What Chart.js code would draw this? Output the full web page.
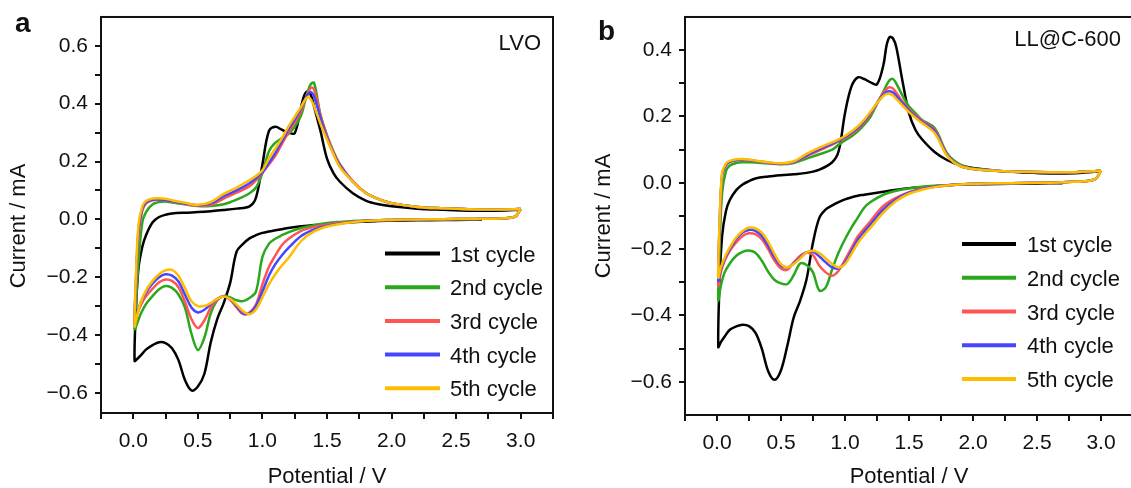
<!DOCTYPE html>
<html>
<head>
<meta charset="utf-8">
<script src="https://cdn.jsdelivr.net/npm/chart.js@4.4.0/dist/chart.umd.min.js"></script>
<style>
    html, body { margin: 0; padding: 0; background: #fff; overflow: hidden; width: 1131px; height: 488px; }
    canvas { position: absolute; top: 0; }
    #chart-a { left: 0; }
    #chart-b { left: 566px; }
</style>
</head>
<body>
<canvas id="chart-a" width="565" height="488"></canvas>
<canvas id="chart-b" width="580" height="488"></canvas>
<script>
// potential grids (V) for the two sweep directions
const cathodicV = [3.0, 2.95, 2.7, 2.5, 2.3, 2.1, 2.0, 1.9, 1.8, 1.7, 1.6, 1.5, 1.4, 1.3, 1.2, 1.15, 1.1, 1.05, 1.0, 0.95,
    0.9, 0.85, 0.8, 0.75, 0.7, 0.65, 0.6, 0.55, 0.5, 0.45, 0.4, 0.35, 0.3, 0.25, 0.2, 0.15, 0.1, 0.06, 0.03, 0.01];
const anodicV = [0.02, 0.04, 0.07, 0.1, 0.15, 0.2, 0.25, 0.3, 0.4, 0.5, 0.6, 0.7, 0.8, 0.9, 0.95, 1.0, 1.05, 1.1, 1.15, 1.2,
    1.25, 1.3, 1.325, 1.35, 1.375, 1.4, 1.45, 1.5, 1.55, 1.6, 1.7, 1.8, 1.9, 2.0, 2.2, 2.4, 2.6, 2.8, 2.95, 3.0];

const cycleLabels = ["1st cycle", "2nd cycle", "3rd cycle", "4th cycle", "5th cycle"];
const cycleColors = ["#000000", "#2aa81c", "#ff5454", "#4646ff", "#ffbd00"];

// current (mA) - panel a, LVO
const lvoCath1 = [null, null, -0.001, -0.002, -0.003, -0.004, -0.005, -0.006, -0.008, -0.01, -0.013, -0.016, -0.02, -0.024, -0.03, -0.034, -0.038, -0.042, -0.047, -0.055,
    -0.066, -0.085, -0.112, -0.22, -0.29, -0.345, -0.425, -0.535, -0.578, -0.592, -0.556, -0.487, -0.446, -0.428, -0.425, -0.435, -0.45, -0.47, -0.483, -0.49];
const lvoAnod1 = [-0.32, -0.17, -0.095, -0.053, -0.01, 0.008, 0.016, 0.02, 0.023, 0.025, 0.028, 0.032, 0.037, 0.045, 0.075, 0.19, 0.305, 0.32, 0.31, 0.3,
    0.298, 0.39, 0.43, 0.442, 0.43, 0.39, 0.305, 0.21, 0.16, 0.13, 0.09, 0.065, 0.052, 0.045, 0.037, 0.033, 0.03, 0.03, 0.032, 0.033];
const lvoCath2 = [0.035, 0.008, 0.002, 0.001, 0.0, -0.001, -0.002, -0.003, -0.004, -0.006, -0.009, -0.013, -0.02, -0.03, -0.045, -0.055, -0.067, -0.085, -0.13, -0.25,
    -0.272, -0.283, -0.28, -0.27, -0.265, -0.28, -0.325, -0.41, -0.452, -0.395, -0.305, -0.26, -0.237, -0.231, -0.242, -0.265, -0.292, -0.325, -0.36, -0.38];
const lvoAnod2 = [-0.3, -0.15, -0.01, 0.026, 0.052, 0.06, 0.062, 0.058, 0.052, 0.046, 0.046, 0.052, 0.068, 0.09, 0.11, 0.16, 0.235, 0.265, 0.28, 0.295,
    0.32, 0.36, 0.4, 0.44, 0.468, 0.472, 0.36, 0.29, 0.235, 0.19, 0.13, 0.092, 0.07, 0.056, 0.043, 0.038, 0.035, 0.034, 0.035, 0.036];
const lvoCath3 = [0.035, 0.008, 0.002, 0.001, 0.0, -0.001, -0.002, -0.003, -0.005, -0.008, -0.012, -0.018, -0.026, -0.04, -0.068, -0.09, -0.125, -0.165, -0.225, -0.295,
    -0.322, -0.328, -0.305, -0.278, -0.266, -0.278, -0.305, -0.35, -0.376, -0.345, -0.285, -0.235, -0.213, -0.208, -0.218, -0.24, -0.265, -0.295, -0.33, -0.365];
const lvoAnod3 = [-0.24, -0.06, 0.03, 0.055, 0.066, 0.068, 0.066, 0.062, 0.053, 0.047, 0.05, 0.072, 0.092, 0.115, 0.135, 0.16, 0.19, 0.22, 0.26, 0.3,
    0.335, 0.375, 0.405, 0.435, 0.455, 0.45, 0.36, 0.29, 0.232, 0.19, 0.132, 0.092, 0.07, 0.056, 0.043, 0.038, 0.035, 0.034, 0.035, 0.036];
const lvoCath4 = [0.035, 0.008, 0.002, 0.001, 0.0, -0.001, -0.002, -0.003, -0.005, -0.009, -0.014, -0.022, -0.035, -0.058, -0.1, -0.125, -0.155, -0.195, -0.25, -0.3,
    -0.325, -0.325, -0.3, -0.275, -0.267, -0.275, -0.293, -0.313, -0.322, -0.305, -0.26, -0.215, -0.195, -0.19, -0.2, -0.222, -0.252, -0.285, -0.325, -0.365];
const lvoAnod4 = [-0.22, -0.04, 0.038, 0.06, 0.068, 0.069, 0.067, 0.063, 0.055, 0.049, 0.055, 0.08, 0.1, 0.125, 0.142, 0.163, 0.195, 0.23, 0.27, 0.31,
    0.345, 0.385, 0.41, 0.432, 0.44, 0.425, 0.35, 0.282, 0.228, 0.186, 0.13, 0.091, 0.07, 0.056, 0.043, 0.038, 0.035, 0.034, 0.035, 0.036];
const lvoCath5 = [0.035, 0.008, 0.002, 0.001, 0.0, -0.001, -0.002, -0.003, -0.006, -0.01, -0.016, -0.025, -0.042, -0.075, -0.135, -0.16, -0.19, -0.225, -0.27, -0.312,
    -0.328, -0.318, -0.295, -0.275, -0.267, -0.275, -0.29, -0.3, -0.3, -0.283, -0.238, -0.195, -0.175, -0.176, -0.19, -0.213, -0.245, -0.285, -0.33, -0.37];
const lvoAnod5 = [-0.2, -0.02, 0.045, 0.064, 0.072, 0.073, 0.071, 0.066, 0.057, 0.05, 0.06, 0.088, 0.11, 0.135, 0.15, 0.17, 0.21, 0.245, 0.28, 0.32,
    0.355, 0.39, 0.41, 0.422, 0.415, 0.39, 0.33, 0.275, 0.225, 0.18, 0.13, 0.091, 0.07, 0.056, 0.043, 0.038, 0.035, 0.034, 0.035, 0.036];

// current (mA) - panel b, LL@C-600
const llcCath1 = [null, null, -0.001, -0.002, -0.003, -0.004, -0.004, -0.005, -0.007, -0.01, -0.013, -0.016, -0.021, -0.027, -0.033, -0.036, -0.039, -0.044, -0.05, -0.058,
    -0.068, -0.08, -0.105, -0.18, -0.29, -0.355, -0.405, -0.49, -0.565, -0.594, -0.568, -0.5, -0.452, -0.432, -0.428, -0.433, -0.443, -0.463, -0.48, -0.495];
const llcAnod1 = [-0.3, -0.16, -0.085, -0.052, -0.022, -0.005, 0.005, 0.013, 0.019, 0.023, 0.026, 0.03, 0.04, 0.062, 0.095, 0.21, 0.29, 0.318, 0.313, 0.303,
    0.297, 0.355, 0.415, 0.44, 0.435, 0.41, 0.305, 0.21, 0.16, 0.132, 0.093, 0.068, 0.053, 0.045, 0.036, 0.031, 0.028, 0.029, 0.033, 0.036];
const llcCath2 = [0.037, 0.01, 0.002, 0.0, -0.001, -0.002, -0.003, -0.005, -0.007, -0.009, -0.012, -0.017, -0.024, -0.036, -0.058, -0.075, -0.105, -0.135, -0.17, -0.21,
    -0.26, -0.315, -0.325, -0.27, -0.248, -0.243, -0.278, -0.305, -0.303, -0.293, -0.268, -0.235, -0.211, -0.204, -0.208, -0.22, -0.243, -0.27, -0.31, -0.354];
const llcAnod2 = [-0.2, -0.03, 0.035, 0.052, 0.06, 0.062, 0.062, 0.061, 0.058, 0.056, 0.06, 0.073, 0.086, 0.1, 0.115, 0.128, 0.14, 0.155, 0.175, 0.2,
    0.238, 0.275, 0.295, 0.31, 0.313, 0.3, 0.262, 0.23, 0.21, 0.19, 0.165, 0.088, 0.055, 0.043, 0.036, 0.033, 0.032, 0.032, 0.035, 0.037];
const llcCath3 = [0.037, 0.01, 0.002, 0.0, -0.001, -0.002, -0.003, -0.005, -0.008, -0.011, -0.017, -0.028, -0.045, -0.07, -0.115, -0.138, -0.162, -0.197, -0.232, -0.265,
    -0.28, -0.27, -0.25, -0.218, -0.21, -0.22, -0.24, -0.262, -0.258, -0.235, -0.2, -0.17, -0.155, -0.152, -0.16, -0.18, -0.205, -0.235, -0.27, -0.31];
const llcAnod3 = [-0.15, 0.02, 0.052, 0.062, 0.068, 0.069, 0.068, 0.065, 0.06, 0.057, 0.062, 0.08, 0.098, 0.115, 0.125, 0.135, 0.147, 0.162, 0.182, 0.207,
    0.24, 0.272, 0.283, 0.288, 0.284, 0.272, 0.245, 0.222, 0.203, 0.188, 0.16, 0.085, 0.051, 0.042, 0.036, 0.033, 0.032, 0.032, 0.035, 0.037];
const llcCath4 = [0.037, 0.01, 0.002, 0.0, -0.001, -0.002, -0.003, -0.005, -0.008, -0.012, -0.019, -0.03, -0.05, -0.08, -0.125, -0.148, -0.172, -0.207, -0.24, -0.258,
    -0.255, -0.24, -0.222, -0.208, -0.21, -0.225, -0.243, -0.255, -0.25, -0.225, -0.19, -0.16, -0.145, -0.142, -0.15, -0.17, -0.2, -0.23, -0.26, -0.295];
const llcAnod4 = [-0.13, 0.025, 0.055, 0.064, 0.069, 0.07, 0.069, 0.066, 0.061, 0.058, 0.063, 0.083, 0.102, 0.118, 0.128, 0.138, 0.151, 0.166, 0.186, 0.211,
    0.24, 0.266, 0.274, 0.276, 0.272, 0.262, 0.24, 0.218, 0.2, 0.185, 0.156, 0.083, 0.05, 0.042, 0.036, 0.033, 0.032, 0.032, 0.035, 0.037];
const llcCath5 = [0.037, 0.01, 0.002, 0.0, -0.001, -0.002, -0.003, -0.005, -0.008, -0.013, -0.021, -0.033, -0.055, -0.09, -0.135, -0.157, -0.182, -0.215, -0.245, -0.255,
    -0.245, -0.228, -0.212, -0.205, -0.21, -0.228, -0.245, -0.255, -0.245, -0.215, -0.178, -0.15, -0.137, -0.135, -0.145, -0.165, -0.195, -0.225, -0.255, -0.285];
const llcAnod5 = [-0.12, 0.03, 0.058, 0.066, 0.071, 0.072, 0.07, 0.067, 0.062, 0.059, 0.065, 0.087, 0.106, 0.122, 0.131, 0.141, 0.155, 0.17, 0.19, 0.215,
    0.24, 0.262, 0.268, 0.268, 0.263, 0.253, 0.233, 0.213, 0.196, 0.181, 0.15, 0.08, 0.05, 0.042, 0.036, 0.033, 0.032, 0.032, 0.035, 0.037];

// ticks
const xMajor = [0, 0.5, 1.0, 1.5, 2.0, 2.5, 3.0];
const xMinor = [-0.25, 0.25, 0.75, 1.25, 1.75, 2.25, 2.75, 3.25];
const yMajorA = [-0.6, -0.4, -0.2, 0, 0.2, 0.4, 0.6];
const yMinorA = [-0.5, -0.3, -0.1, 0.1, 0.3, 0.5];
const yMajorB = [-0.6, -0.4, -0.2, 0, 0.2, 0.4];
const yMinorB = [-0.5, -0.3, -0.1, 0.1, 0.3];

const FONT = "'Liberation Sans', Arial, Helvetica, sans-serif";
const INK = "#111";

Chart.defaults.font.family = FONT;
Chart.defaults.color = INK;

// one closed CV loop: cathodic sweep then anodic sweep
function loop(cath, anod) {
    const pts = [];
    cathodicV.forEach((v, i) => {
        if (cath[i] !== null) pts.push({ x: v, y: cath[i] });
    });
    anodicV.forEach((v, i) => pts.push({ x: v, y: anod[i] }));
    return pts;
}

function tickList(major, minor) {
    return [...major, ...minor].sort((a, b) => a - b).map(v => ({ value: v }));
}

function tickLabel(v, major) {
    if (!major.some(m => Math.abs(m - v) < 1e-6)) return "";
    return (v < -1e-9 ? "\u2212" : "") + Math.abs(v).toFixed(1);
}

// box round the plot area
const frame = {
    id: "frame",
    afterDraw(chart) {
        const { ctx, chartArea: a } = chart;
        ctx.save();
        ctx.strokeStyle = INK;
        ctx.lineWidth = 2;
        ctx.strokeRect(a.left, a.top, a.right - a.left, a.bottom - a.top);
        ctx.restore();
    }
};

// legend inside the plot
const cvLegend = {
    id: "cvLegend",
    afterDatasetsDraw(chart, args, opts) {
        const ctx = chart.ctx;
        ctx.save();
        ctx.font = "22px " + FONT;
        ctx.textBaseline = "alphabetic";
        ctx.textAlign = "left";
        chart.data.datasets.forEach((ds, i) => {
            const y = opts.y + i * opts.rowH;
            ctx.strokeStyle = ds.borderColor;
            ctx.lineWidth = 4;
            ctx.beginPath();
            ctx.moveTo(opts.x, y);
            ctx.lineTo(opts.x + opts.len, y);
            ctx.stroke();
            ctx.fillStyle = INK;
            ctx.fillText(ds.label, opts.x + opts.len + opts.gap, y + 8);
        });
        ctx.restore();
    }
};

// panel letter and sample name
const panelText = {
    id: "panelText",
    afterDraw(chart, args, opts) {
        const ctx = chart.ctx;
        ctx.save();
        ctx.fillStyle = INK;
        ctx.textBaseline = "alphabetic";
        opts.items.forEach(t => {
            ctx.font = t.font;
            ctx.textAlign = t.align;
            ctx.fillText(t.text, t.x, t.y);
        });
        ctx.restore();
    }
};

function makeChart(id, cfg) {
    const datasets = cfg.cycles.map((c, i) => ({
        label: cycleLabels[i],
        data: loop(c[0], c[1]),
        borderColor: cycleColors[i],
        borderWidth: 2.5,
        showLine: true,
        pointRadius: 0,
        tension: 0.35,
        fill: false,
        order: cfg.cycles.length - 1 - i
    }));

    return new Chart(document.getElementById(id), {
        type: "scatter",
        data: { datasets },
        plugins: [frame, cvLegend, panelText],
        options: {
            responsive: false,
            animation: false,
            events: [],
            layout: { padding: cfg.padding },
            plugins: {
                legend: { display: false },
                tooltip: { enabled: false },
                cvLegend: cfg.legend,
                panelText: { items: cfg.texts }
            },
            scales: {
                x: {
                    type: "linear",
                    min: -0.25,
                    max: 3.25,
                    afterBuildTicks: s => { s.ticks = tickList(xMajor, xMinor); },
                    afterFit: s => { s.height = cfg.xHeight; },
                    ticks: {
                        autoSkip: false,
                        maxRotation: 0,
                        padding: 12,
                        color: INK,
                        font: { size: 21, lineHeight: 0.95 },
                        callback: v => tickLabel(v, xMajor)
                    },
                    grid: { drawOnChartArea: false, tickLength: 6, lineWidth: 2, color: INK },
                    border: { display: true, width: 2, color: INK },
                    title: {
                        display: true,
                        text: "Potential / V",
                        color: INK,
                        font: { size: 22, lineHeight: 1 },
                        padding: 0
                    }
                },
                y: {
                    type: "linear",
                    min: cfg.yMin,
                    max: cfg.yMax,
                    afterBuildTicks: s => { s.ticks = tickList(cfg.yMajor, cfg.yMinor); },
                    afterFit: s => { s.width = 101; },
                    ticks: {
                        autoSkip: false,
                        padding: 7,
                        color: INK,
                        font: { size: 21, lineHeight: 0.95 },
                        callback: v => tickLabel(v, cfg.yMajor)
                    },
                    grid: { drawOnChartArea: false, tickLength: 6, lineWidth: 2, color: INK },
                    border: { display: true, width: 2, color: INK },
                    title: {
                        display: true,
                        text: cfg.yTitle,
                        color: INK,
                        font: { size: 22, lineHeight: 1.2 },
                        padding: { top: cfg.yTitlePad, bottom: 0 }
                    }
                }
            }
        }
    });
}

makeChart("chart-a", {
    cycles: [[lvoCath1, lvoAnod1], [lvoCath2, lvoAnod2], [lvoCath3, lvoAnod3], [lvoCath4, lvoAnod4], [lvoCath5, lvoAnod5]],
    yMin: -0.67, yMax: 0.70,
    yMajor: yMajorA, yMinor: yMinorA,
    padding: { left: 0, top: 12, right: 8, bottom: 0 },
    xHeight: 75,
    yTitle: "Current / mA\u2003",
    yTitlePad: 6,
    legend: { x: 385, y: 253.5, len: 55, gap: 10, rowH: 33.7 },
    texts: [
        { text: "a", x: 15, y: 32, font: "bold 28px " + FONT, align: "left" },
        { text: "LVO", x: 541, y: 50, font: "22px " + FONT, align: "right" }
    ]
});

makeChart("chart-b", {
    cycles: [[llcCath1, llcAnod1], [llcCath2, llcAnod2], [llcCath3, llcAnod3], [llcCath4, llcAnod4], [llcCath5, llcAnod5]],
    yMin: -0.70, yMax: 0.50,
    yMajor: yMajorB, yMinor: yMinorB,
    padding: { left: 18, top: 10, right: 13, bottom: 0 },
    xHeight: 73,
    yTitle: "Current / mA",
    yTitlePad: 7,
    legend: { x: 396, y: 244, len: 54, gap: 11, rowH: 33.75 },
    texts: [
        { text: "b", x: 32, y: 40, font: "bold 28px " + FONT, align: "left" },
        { text: "LL@C-600", x: 555, y: 46, font: "22px " + FONT, align: "right" }
    ]
});
</script>
</body>
</html>
